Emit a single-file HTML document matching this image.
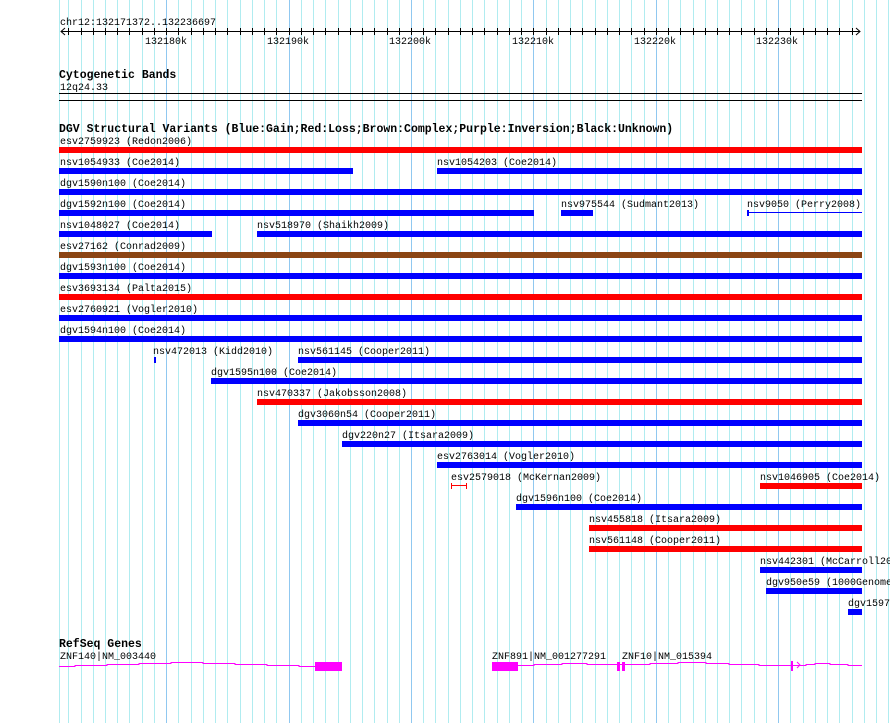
<!DOCTYPE html>
<html><head><meta charset="utf-8"><style>
html,body{margin:0;padding:0;background:#fff;}
svg{display:block;}
text{font-family:"Liberation Mono","DejaVu Sans Mono",monospace;font-size:10px;fill:#000;}
.b{font-weight:bold;font-size:11.5px;}
</style></head><body>
<svg id="s" width="890" height="723" xmlns="http://www.w3.org/2000/svg" shape-rendering="crispEdges">
<g id="grid"></g>
<text x="60" y="25">chr12:132171372..132236697</text>
<line x1="61" y1="31.5" x2="860" y2="31.5" stroke="#000"/>
<polyline points="65,28 61,31.5 65,35" fill="none" stroke="#000" shape-rendering="auto"/>
<polyline points="856,28 860,31.5 856,35" fill="none" stroke="#000" shape-rendering="auto"/>
<g id="ticks"></g>
<text x="145" y="44">132180k</text>
<text x="267" y="44">132190k</text>
<text x="389" y="44">132200k</text>
<text x="512" y="44">132210k</text>
<text x="634" y="44">132220k</text>
<text x="756" y="44">132230k</text>
<text class="b" x="59" y="78">Cytogenetic Bands</text>
<text x="60" y="90">12q24.33</text>
<rect x="59" y="93" width="803" height="1" fill="#000"/>
<rect x="59" y="100" width="803" height="1" fill="#000"/>
<text class="b" x="59" y="132">DGV Structural Variants (Blue:Gain;Red:Loss;Brown:Complex;Purple:Inversion;Black:Unknown)</text>
<g>
<text x="60" y="144">esv2759923 (Redon2006)</text><rect x="59" y="147" width="803" height="6" fill="#f00"/>
<text x="60" y="165">nsv1054933 (Coe2014)</text><rect x="59" y="168" width="294" height="6" fill="#00f"/>
<text x="437" y="165">nsv1054203 (Coe2014)</text><rect x="437" y="168" width="425" height="6" fill="#00f"/>
<text x="60" y="186">dgv1590n100 (Coe2014)</text><rect x="59" y="189" width="803" height="6" fill="#00f"/>
<text x="60" y="207">dgv1592n100 (Coe2014)</text><rect x="59" y="210" width="475" height="6" fill="#00f"/>
<text x="561" y="207">nsv975544 (Sudmant2013)</text><rect x="561" y="210" width="32" height="6" fill="#00f"/>
<text x="747" y="207">nsv9050 (Perry2008)</text><rect x="747" y="210" width="2" height="6" fill="#00f"/><rect x="747" y="212" width="115" height="1" fill="#00f"/>
<text x="60" y="228">nsv1048027 (Coe2014)</text><rect x="59" y="231" width="153" height="6" fill="#00f"/>
<text x="257" y="228">nsv518970 (Shaikh2009)</text><rect x="257" y="231" width="605" height="6" fill="#00f"/>
<text x="60" y="249">esv27162 (Conrad2009)</text><rect x="59" y="252" width="803" height="6" fill="#8b4513"/>
<text x="60" y="270">dgv1593n100 (Coe2014)</text><rect x="59" y="273" width="803" height="6" fill="#00f"/>
<text x="60" y="291">esv3693134 (Palta2015)</text><rect x="59" y="294" width="803" height="6" fill="#f00"/>
<text x="60" y="312">esv2760921 (Vogler2010)</text><rect x="59" y="315" width="803" height="6" fill="#00f"/>
<text x="60" y="333">dgv1594n100 (Coe2014)</text><rect x="59" y="336" width="803" height="6" fill="#00f"/>
<text x="153" y="354">nsv472013 (Kidd2010)</text><rect x="154" y="357" width="2" height="6" fill="#00f"/>
<text x="298" y="354">nsv561145 (Cooper2011)</text><rect x="298" y="357" width="564" height="6" fill="#00f"/>
<text x="211" y="375">dgv1595n100 (Coe2014)</text><rect x="211" y="378" width="651" height="6" fill="#00f"/>
<text x="257" y="396">nsv470337 (Jakobsson2008)</text><rect x="257" y="399" width="605" height="6" fill="#f00"/>
<text x="298" y="417">dgv3060n54 (Cooper2011)</text><rect x="298" y="420" width="564" height="6" fill="#00f"/>
<text x="342" y="438">dgv220n27 (Itsara2009)</text><rect x="342" y="441" width="520" height="6" fill="#00f"/>
<text x="437" y="459">esv2763014 (Vogler2010)</text><rect x="437" y="462" width="425" height="6" fill="#00f"/>
<text x="451" y="480">esv2579018 (McKernan2009)</text><rect x="451" y="483" width="1" height="6" fill="#f00"/><rect x="466" y="483" width="1" height="6" fill="#f00"/><rect x="451" y="485" width="16" height="1" fill="#f00"/>
<text x="760" y="480">nsv1046905 (Coe2014)</text><rect x="760" y="483" width="102" height="6" fill="#f00"/>
<text x="516" y="501">dgv1596n100 (Coe2014)</text><rect x="516" y="504" width="346" height="6" fill="#00f"/>
<text x="589" y="522">nsv455818 (Itsara2009)</text><rect x="589" y="525" width="273" height="6" fill="#f00"/>
<text x="589" y="543">nsv561148 (Cooper2011)</text><rect x="589" y="546" width="273" height="6" fill="#f00"/>
<text x="760" y="564">nsv442301 (McCarroll2008)</text><rect x="760" y="567" width="102" height="6" fill="#00f"/>
<text x="766" y="585">dgv950e59 (1000Genomes)</text><rect x="766" y="588" width="96" height="6" fill="#00f"/>
<text x="848" y="606">dgv1597n100</text><rect x="848" y="609" width="14" height="6" fill="#00f"/>
</g>
<text class="b" x="59" y="647">RefSeq Genes</text>
<text x="60" y="659">ZNF140|NM_003440</text>
<text x="492" y="659">ZNF891|NM_001277291</text>
<text x="622" y="659">ZNF10|NM_015394</text>
<polyline points="59,666.5 75,666.5 75,665.5 107,665.5 107,664.5 139,664.5 139,663.5 171,663.5 171,662.5 203,662.5 203,663.5 235,663.5 235,664.5 267,664.5 267,665.5 299,665.5 299,666.5 315,666.5" fill="none" stroke="#f0f" stroke-width="1"/>
<rect x="315" y="662" width="27" height="9" fill="#f0f"/>
<rect x="492" y="662" width="26" height="9" fill="#f0f"/>
<polyline points="518,665.5 534,665.5 534,664.5 562,664.5 562,663.5 587,663.5 587,664.5 650,664.5 650,663.5 678,663.5 678,662.5 706,662.5 706,663.5 729,663.5 729,664.5 759,664.5 759,665.5 786,665.5 806,665.5 806,664.5 815,664.5 815,663.5 830,663.5 830,664.5 848,664.5 848,665.5 862,665.5" fill="none" stroke="#f0f" stroke-width="1"/>
<rect x="617" y="662" width="3" height="9" fill="#f0f"/>
<rect x="622" y="662" width="3" height="9" fill="#f0f"/>
<rect x="791" y="661" width="2" height="10" fill="#f0f"/>
<polyline points="797,662 800,665 797,668" fill="none" stroke="#f0f" shape-rendering="auto"/>
</svg>
<script>
var ns="http://www.w3.org/2000/svg",g=document.getElementById("grid"),t=document.getElementById("ticks");
function L(par,x1,y1,x2,y2,c){var l=document.createElementNS(ns,"line");l.setAttribute("x1",x1);l.setAttribute("x2",x2);l.setAttribute("y1",y1);l.setAttribute("y2",y2);l.setAttribute("stroke",c);l.setAttribute("stroke-width",1);par.appendChild(l);}
for(var k=-9;k<=60;k++){var x=Math.floor(166.7+12.24*k)+0.5;if(x<58||x>890)continue;var maj=(k%10===0);
L(g,x,0,x,723,maj?"#90c8f0":"#b0ecf0");
if(x>62&&x<858){L(t,x,28,x,35,"#000");}}
L(g,59.5,0,59.5,723,"#b0ecf0");
</script>
</body></html>
